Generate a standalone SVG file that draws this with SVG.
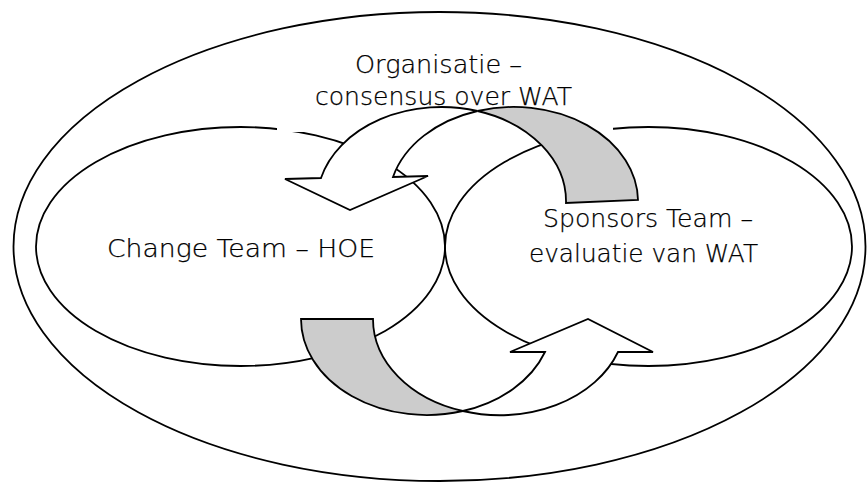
<svg xmlns="http://www.w3.org/2000/svg" width="868" height="484" viewBox="0 0 868 484">
  <style>
    .ring { fill: none; stroke: #000; stroke-width: 1.8; }
    .outer { fill: #fff; stroke: #000; stroke-width: 1.8; }
    .label { font-family: "DejaVu Sans", "Liberation Sans", sans-serif; font-size: 24px; font-weight: 300; fill: #000; stroke: #000; stroke-width: 0.25; }
    .front { fill: #fff; stroke: #000; stroke-width: 1.8; stroke-linejoin: miter; }
    .back { fill: #cccccc; stroke: #000; stroke-width: 1.8; stroke-linejoin: miter; }
  </style>

  <rect width="868" height="484" fill="#fff"/>

  <!-- whole organisation -->
  <g id="organisatie">
    <ellipse class="outer" cx="439.5" cy="246.5" rx="426" ry="234.5"/>
  </g>

  <!-- change team -->
  <g id="change-team">
    <ellipse class="ring" cx="240.5" cy="246.5" rx="204.5" ry="119.5"/>
    <text class="label" x="107" y="257" textLength="268" lengthAdjust="spacingAndGlyphs">Change Team – HOE</text>
  </g>

  <!-- sponsors team -->
  <g id="sponsors-team">
    <ellipse class="ring" cx="648.5" cy="246.5" rx="203.5" ry="119.5"/>
    <text class="label" x="543" y="227" textLength="210" lengthAdjust="spacingAndGlyphs">Sponsors Team –</text>
    <text class="label" x="529" y="262" textLength="229" lengthAdjust="spacingAndGlyphs">evaluatie van WAT</text>
  </g>

  <!-- organisation label on its own white box -->
  <g id="organisatie-label">
    <rect x="277" y="48" width="336" height="84" fill="#fff"/>
    <text class="label" x="355" y="73" textLength="167" lengthAdjust="spacingAndGlyphs">Organisatie –</text>
    <text class="label" x="315" y="105" textLength="257" lengthAdjust="spacingAndGlyphs">consensus over WAT</text>
  </g>

  <!-- curved cycle arrows -->
  <g id="connectors">
    <!-- upper arrow: sponsors → change team -->
    <path class="back" d="M 477.5 111 A 124.5 94.5 0 0 1 638 200 L 566 203 A 124.5 94.5 0 0 0 477.5 111 Z"/>
    <path class="front" d="M 477.5 111 A 124.5 94.5 0 0 0 321 178 L 285 179 L 350 210 L 428 176 L 393 177 A 124.5 94.5 0 0 1 477.5 111 Z"/>
    <!-- lower arrow: change team → sponsors -->
    <path class="back" d="M 301 319 L 373 319 A 125.8 96 0 0 0 462.8 411 A 125.8 96 0 0 1 301 319 Z"/>
    <path class="front" d="M 462.8 411 A 125.8 96 0 0 0 618 352 L 653 352 L 588 319 L 510 352 L 545 352 A 125.8 96 0 0 1 462.8 411 Z"/>
  </g>
</svg>
